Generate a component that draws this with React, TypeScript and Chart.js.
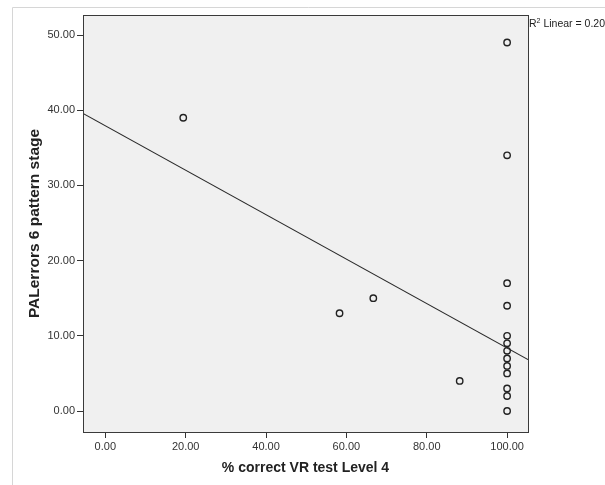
import React, { useEffect, useRef } from "react";
import { Chart, registerables } from "chart.js";

Chart.register(...registerables);

// Data
const pctCorrect: number[] = [19.4, 58.3, 66.7, 88.2, 100, 100, 100, 100, 100, 100, 100, 100, 100, 100, 100, 100, 100];
const palErrors: number[] = [39, 13, 15, 4, 49, 34, 17, 14, 10, 9, 8, 7, 6, 5, 3, 2, 0];

// Fit line (R² Linear = 0.20)
const fitIntercept = 37.93;
const fitSlope = -0.2956;
const r2Text = "0.20";

const xTickValues: number[] = [0, 20, 40, 60, 80, 100];
const yTickValues: number[] = [0, 10, 20, 30, 40, 50];
const xMin = -5.55;
const xMax = 105.2;
const yMin = -2.79;
const yMax = 52.66;

const xTitle = "% correct VR test Level 4";
const yTitle = "PALerrors 6 pattern stage";

const FONT = '"Liberation Sans", Arial, sans-serif';

export default function App() {
  const ref = useRef<HTMLCanvasElement | null>(null);

  useEffect(() => {
    if (!ref.current) return;
    const points = pctCorrect.map((x, i) => ({ x, y: palErrors[i] }));
    const fitLine = [xMin, xMax].map((x) => ({ x, y: fitIntercept + fitSlope * x }));

    const framePlugin = {
      id: "frame",
      beforeDraw(chart: any) {
        const { ctx, chartArea } = chart;
        ctx.save();
        ctx.fillStyle = "#ffffff";
        ctx.fillRect(0, 0, chart.width, chart.height);
        ctx.strokeStyle = "#d6d6d6";
        ctx.lineWidth = 1;
        ctx.beginPath();
        ctx.moveTo(12.5, chart.height);
        ctx.lineTo(12.5, 7.5);
        ctx.lineTo(chart.width, 7.5);
        ctx.stroke();
        ctx.fillStyle = "#f0f0f0";
        ctx.fillRect(chartArea.left, chartArea.top, chartArea.right - chartArea.left, chartArea.bottom - chartArea.top);
        ctx.restore();
      },
      afterDraw(chart: any) {
        const { ctx, chartArea } = chart;
        ctx.save();
        ctx.strokeStyle = "#3a3a3a";
        ctx.lineWidth = 1;
        const l = Math.round(chartArea.left) + 0.5;
        const t = Math.round(chartArea.top) + 0.5;
        const r = Math.round(chartArea.right) + 0.5;
        const b = Math.round(chartArea.bottom) + 0.5;
        ctx.strokeRect(l, t, r - l, b - t);
        // R² label
        ctx.fillStyle = "#222";
        ctx.textBaseline = "alphabetic";
        ctx.textAlign = "left";
        let x = r + 0.5;
        const y = t + 11;
        ctx.font = `10.5px ${FONT}`;
        ctx.fillText("R", x, y);
        x += ctx.measureText("R").width;
        ctx.font = `7px ${FONT}`;
        ctx.fillText("2", x, y - 4);
        x += ctx.measureText("2").width;
        ctx.font = `10.5px ${FONT}`;
        ctx.fillText(` Linear = ${r2Text}`, x, y);
        ctx.restore();
      },
    };

    const chart = new Chart(ref.current, {
      type: "scatter",
      data: {
        datasets: [
          {
            type: "line",
            data: fitLine,
            borderColor: "#2a2a2a",
            borderWidth: 1.1,
            pointRadius: 0,
            fill: false,
          } as any,
          {
            type: "scatter",
            data: points,
            backgroundColor: "rgba(0,0,0,0)",
            borderColor: "#222",
            borderWidth: 1.4,
            pointRadius: 3.2,
          },
        ],
      },
      options: {
        animation: false,
        responsive: false,
        layout: { padding: { top: 15, right: 77, bottom: 0, left: 0 } },
        plugins: { legend: { display: false }, tooltip: { enabled: false } },
        scales: {
          x: {
            type: "linear",
            min: xMin,
            max: xMax,
            afterFit(scale: any) {
              scale.height = 53;
            },
            afterBuildTicks(scale: any) {
              scale.ticks = xTickValues.map((value) => ({ value }));
            },
            border: { display: false },
            grid: { drawOnChartArea: false, drawTicks: true, tickLength: 6, color: "#333" },
            ticks: {
              padding: 2,
              color: "#333",
              font: { family: FONT, size: 11 },
              maxRotation: 0,
              callback: (v: any) => Number(v).toFixed(2),
            },
            title: {
              display: true,
              text: xTitle,
              color: "#222",
              font: { family: FONT, size: 14, weight: "bold" },
              padding: { top: 0, bottom: 8 },
            },
          },
          y: {
            type: "linear",
            min: yMin,
            max: yMax,
            afterFit(scale: any) {
              scale.width = 83;
            },
            afterBuildTicks(scale: any) {
              scale.ticks = yTickValues.map((value) => ({ value }));
            },
            border: { display: false },
            grid: { drawOnChartArea: false, drawTicks: true, tickLength: 6, color: "#333" },
            ticks: {
              padding: 2,
              color: "#333",
              font: { family: FONT, size: 11 },
              callback: (v: any) => Number(v).toFixed(2),
            },
            title: {
              display: true,
              text: yTitle,
              color: "#222",
              font: { family: FONT, size: 15.5, weight: "bold" },
              padding: { top: 25, bottom: 0 },
            },
          },
        },
      },
      plugins: [framePlugin],
    });
    return () => chart.destroy();
  }, []);

  return (
    <div style={{ position: "fixed", left: 0, top: 0, width: 605, height: 485, background: "#fff" }}>
      <canvas ref={ref} width={605} height={485} style={{ display: "block", width: 605, height: 485 }} />
    </div>
  );
}
